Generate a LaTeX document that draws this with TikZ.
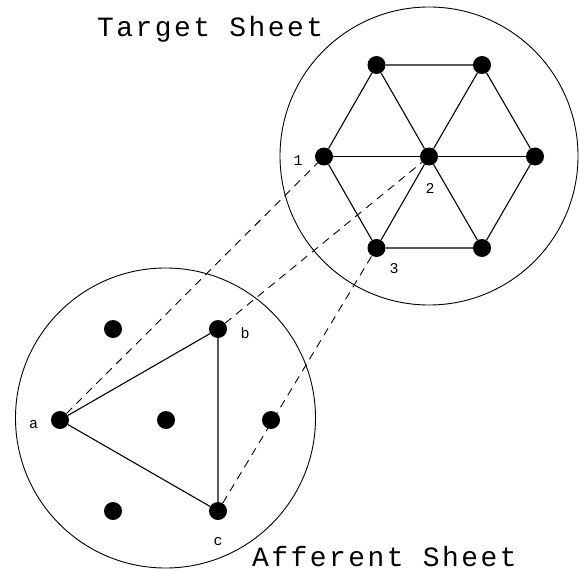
\documentclass[tikz,border=0pt]{standalone}
\usepackage{fontspec}
\newfontfamily\monofont[LetterSpace=9]{Liberation Mono}
\newfontfamily\smallmono{Liberation Mono}
\begin{document}
\begin{tikzpicture}[x=1bp,y=-1bp,
  dot/.style={circle,fill=black,inner sep=0pt,minimum size=18bp},
  edge/.style={line width=1.1bp},
  sheet/.style={line width=0.9bp},
  link/.style={dashed,line width=0.9bp,dash pattern=on 8bp off 6bp},
  lbl/.style={font=\smallmono\fontsize{15}{15}\selectfont,inner sep=0pt},
  title/.style={font=\monofont\fontsize{28}{28}\selectfont,inner sep=0pt,anchor=base west}]
\useasboundingbox (0,0) rectangle (580,572);
% sheets
\node[sheet,draw,circle,minimum size=298bp,inner sep=0pt] (T) at (429,156) {};
\node[sheet,draw,circle,minimum size=300bp,inner sep=0pt] (A) at (165.5,418) {};
% target hexagon
\node[dot] (t0) at (429,156.5) {};
\node[dot] (t1) at (324,156.5) {};
\node[dot] (t4) at (535,156.5) {};
\node[dot] (tTL) at (376.5,65) {};
\node[dot] (tTR) at (482,65) {};
\node[dot] (tBL) at (376.5,248) {};
\node[dot] (tBR) at (482,248) {};
\draw[edge] (tTL) -- (tTR) -- (t4) -- (tBR) -- (tBL) -- (t1) -- (tTL);
\draw[edge] (t1) -- (t0) -- (t4);
\draw[edge] (tTL) -- (t0) -- (tBR);
\draw[edge] (tTR) -- (t0) -- (tBL);
% afferent sheet
\node[dot] (a) at (60,420) {};
\node[dot] (m) at (166,420) {};
\node[dot] (r) at (271,420) {};
\node[dot] (ul) at (113,329) {};
\node[dot] (b) at (218,329) {};
\node[dot] (ll) at (113,511) {};
\node[dot] (c) at (218,511) {};
\draw[edge] (a) -- (b) -- (c) -- (a);
% projections
\draw[link] (a) -- (t1);
\draw[link] (b) -- (t0);
\draw[link] (c) -- (tBL);
% labels
\node[lbl] (l1) at (298,161) {1};
\node[lbl] (l2) at (430,189) {2};
\node[lbl] (l3) at (394,269) {3};
\node[lbl] (la) at (33.5,425) {a};
\node[lbl] (lb) at (245,333) {b};
\node[lbl] (lc) at (218,542) {c};
\node[title] (tt) at (97,37) {Target Sheet};
\node[title] (at) at (252,566) {Afferent Sheet};
\end{tikzpicture}
\end{document}
